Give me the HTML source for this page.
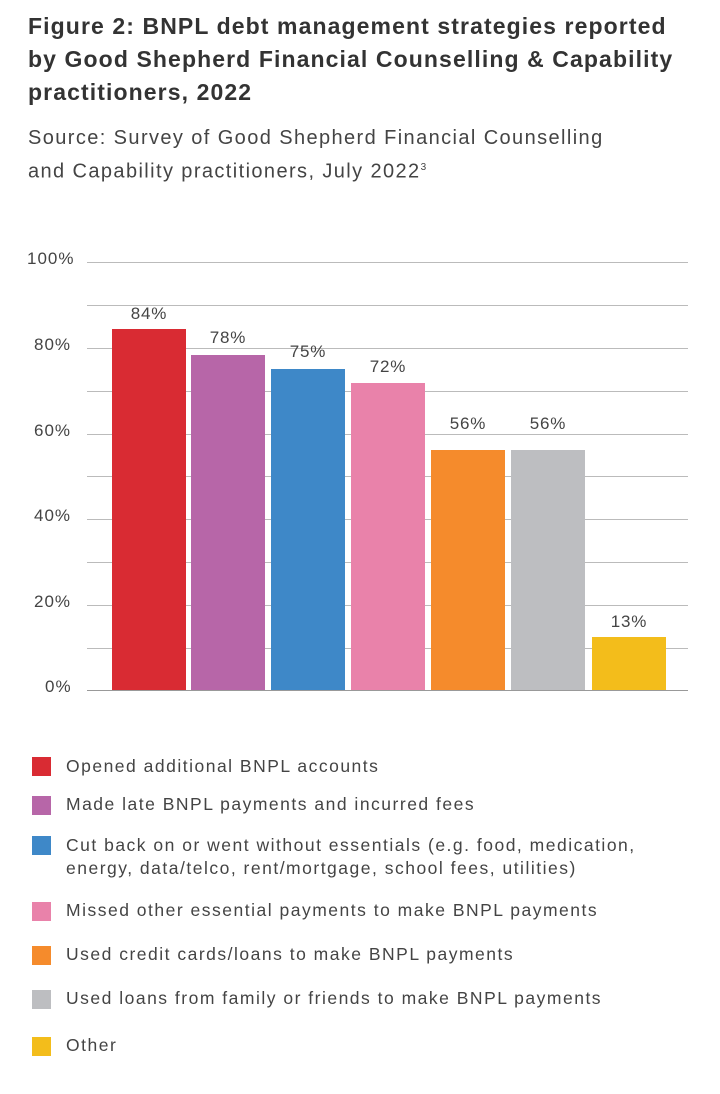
<!DOCTYPE html>
<html><head><meta charset="utf-8"><style>
body{margin:0;width:720px;height:1094px;background:#fff;font-family:"Liberation Sans",sans-serif;color:#3a3a3a;position:relative;overflow:hidden}
.t{position:absolute;left:28px;font-weight:bold;font-size:23px;color:#333;line-height:33px;top:10px;white-space:nowrap;letter-spacing:1.1px}
.s{position:absolute;left:28px;top:123px;font-size:20px;line-height:30px;color:#444;white-space:nowrap;letter-spacing:1.4px}
.a{position:absolute;font-size:17px;color:#444;letter-spacing:1px}
.g{position:absolute;left:87px;width:601px;height:1px;background:#bbb}
.b{position:absolute;width:74px}
.v{position:absolute;font-size:17px;color:#444;width:74px;text-align:center;letter-spacing:0.8px}
.sq{position:absolute;left:32px;width:19px;height:19px}
.l{position:absolute;left:66px;font-size:17.5px;color:#444;line-height:23px;white-space:nowrap;letter-spacing:1.5px}
</style></head><body>
<div class="t">Figure 2: BNPL debt management strategies reported<br>by Good Shepherd Financial Counselling &amp; Capability<br>practitioners, 2022</div>
<div class="s">Source: Survey of Good Shepherd Financial Counselling<br>and Capability practitioners, July 2022<sup style="font-size:10px">3</sup></div>
<div class="g" style="top:262px"></div><div class="g" style="top:305px"></div><div class="g" style="top:348px"></div><div class="g" style="top:391px"></div><div class="g" style="top:434px"></div><div class="g" style="top:476px"></div><div class="g" style="top:519px"></div><div class="g" style="top:562px"></div><div class="g" style="top:605px"></div><div class="g" style="top:648px"></div><div class="g" style="top:690px;background:#999"></div>
<div class="a" style="left:27px;top:249px">100%</div>
<div class="a" style="left:34px;top:335px">80%</div>
<div class="a" style="left:34px;top:421px">60%</div>
<div class="a" style="left:34px;top:506px">40%</div>
<div class="a" style="left:34px;top:592px">20%</div>
<div class="a" style="left:45px;top:677px">0%</div>
<div class="b" style="left:112px;top:329px;height:361px;background:#d92b33"></div><div class="v" style="left:112px;top:304px">84%</div>
<div class="b" style="left:191px;top:355px;height:335px;background:#b766a8"></div><div class="v" style="left:191px;top:328px">78%</div>
<div class="b" style="left:271px;top:369px;height:321px;background:#3e88c8"></div><div class="v" style="left:271px;top:342px">75%</div>
<div class="b" style="left:351px;top:383px;height:307px;background:#e982aa"></div><div class="v" style="left:351px;top:357px">72%</div>
<div class="b" style="left:431px;top:450px;height:240px;background:#f58b2c"></div><div class="v" style="left:431px;top:414px">56%</div>
<div class="b" style="left:511px;top:450px;height:240px;background:#bdbec1"></div><div class="v" style="left:511px;top:414px">56%</div>
<div class="b" style="left:592px;top:637px;height:53px;background:#f3bd1b"></div><div class="v" style="left:592px;top:612px">13%</div>
<div class="sq" style="top:757px;background:#d92b33"></div><div class="l" style="top:755px">Opened additional BNPL accounts</div>
<div class="sq" style="top:796px;background:#b766a8"></div><div class="l" style="top:793px">Made late BNPL payments and incurred fees</div>
<div class="sq" style="top:836px;background:#3e88c8"></div><div class="l" style="top:834px">Cut back on or went without essentials (e.g. food, medication,<br>energy, data/telco, rent/mortgage, school fees, utilities)</div>
<div class="sq" style="top:902px;background:#e982aa"></div><div class="l" style="top:899px">Missed other essential payments to make BNPL payments</div>
<div class="sq" style="top:946px;background:#f58b2c"></div><div class="l" style="top:943px">Used credit cards/loans to make BNPL payments</div>
<div class="sq" style="top:990px;background:#bdbec1"></div><div class="l" style="top:987px">Used loans from family or friends to make BNPL payments</div>
<div class="sq" style="top:1037px;background:#f3bd1b"></div><div class="l" style="top:1034px">Other</div>
</body></html>
